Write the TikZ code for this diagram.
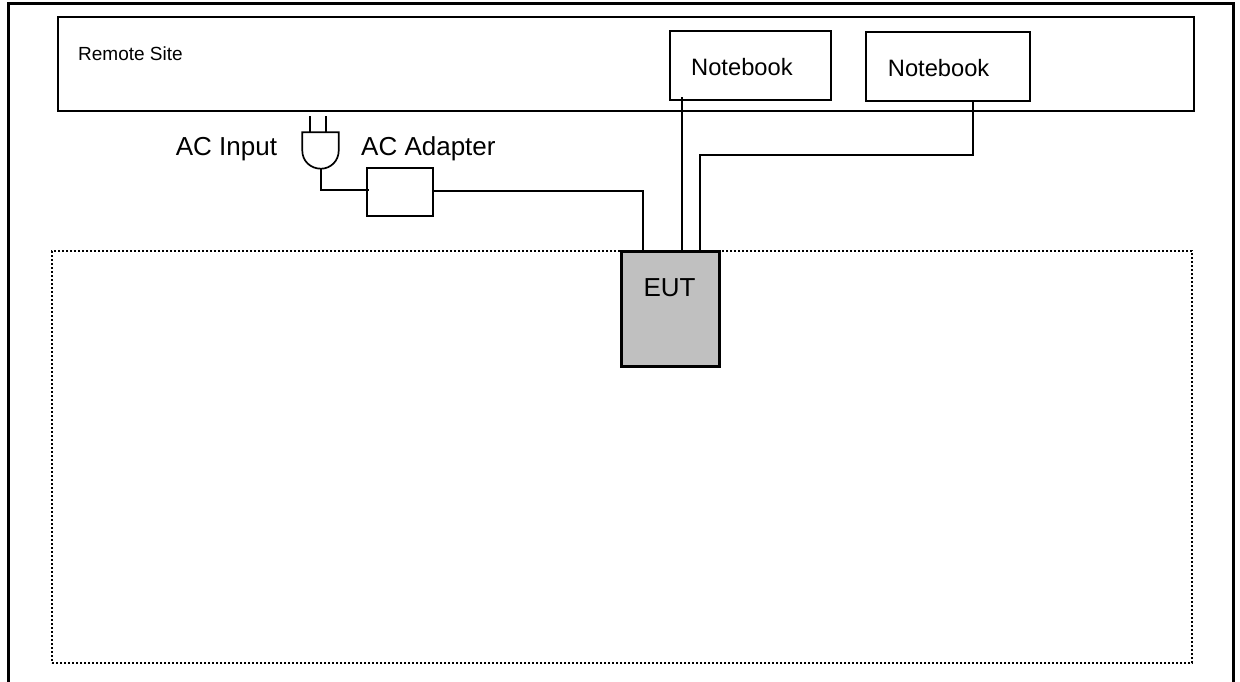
\documentclass[tikz,border=0pt]{standalone}
\usepackage{fontspec}
\setmainfont{Liberation Sans}
\tikzset{
  px/.style={x=1pt,y=-1pt},
  frameline/.style={line width=3.4pt,line cap=butt,line join=miter},
  boxnode/.style={draw,line width=2pt,inner sep=0pt,outer sep=0pt,anchor=north west,fill=white},
  eutnode/.style={draw,line width=3pt,inner sep=0pt,outer sep=0pt,anchor=north west,fill=eutgray},
  wire/.style={line width=2pt,line join=miter},
  plugline/.style={line width=1.7pt,line join=miter},
  labelbig/.style={anchor=base west,inner sep=0pt,font=\fontsize{26}{30}\selectfont},
  labelmid/.style={anchor=base west,inner sep=0pt,font=\fontsize{23.7}{28}\selectfont},
  labelsmall/.style={anchor=base west,inner sep=0pt,font=\fontsize{19}{23}\selectfont},
  dotframe/.style={line width=1.7pt,dash pattern=on 2pt off 2pt},
}
\definecolor{eutgray}{RGB}{192,192,192}
\begin{document}
\begin{tikzpicture}[px]
\useasboundingbox (0,0) rectangle (1240,681);
% outer frame (open at the bottom)
\coordinate (frameBL) at (8.5,683);
\coordinate (frameTL) at (8.5,3.5);
\coordinate (frameTR) at (1233.5,3.5);
\coordinate (frameBR) at (1233.5,683);
\draw[frameline] (frameBL) -- (frameTL) -- (frameTR) -- (frameBR);
% remote site
\node[boxnode,minimum width=1135.5pt,minimum height=94.5pt] (remote) at (58,16.5) {};
\node[labelsmall] (remotelabel) at (78,60) {Remote Site};
% dotted area
\node[dotframe,draw,inner sep=0pt,outer sep=0pt,anchor=north west,minimum width=1140pt,minimum height=412pt] (area) at (52,251) {};
% notebooks
\node[boxnode,minimum width=160.7pt,minimum height=69.3pt] (nbone) at (670,31) {};
\node[labelmid] (nbonelabel) at (691,75) {Notebook};
\node[boxnode,minimum width=164pt,minimum height=69pt] (nbtwo) at (866.3,32.3) {};
\node[labelmid] (nbtwolabel) at (887.7,76) {Notebook};
% EUT
\node[eutnode,minimum width=98pt,minimum height=115.3pt] (eut) at (621.3,251) {};
\node[labelbig] (eutlabel) at (643.3,296) {EUT};
% adapter
\node[boxnode,minimum width=65.8pt,minimum height=48pt] (adapter) at (366.7,168.3) {};
\node[labelbig] (adapterlabel) at (361,155) {AC Adapter};
\node[labelbig] (inputlabel) at (175.7,155) {AC Input};
% plug
\coordinate (plugout) at (321,168.7);
\coordinate (prongA) at (310.3,132.3);
\coordinate (prongB) at (326.3,132.3);
\draw[plugline] (302.3,132.3) -- (338.7,132.3) -- (338.7,150.7)
  .. controls (338.7,161) and (330.5,168.7) .. (plugout)
  .. controls (310.5,168.7) and (302.3,161) .. (302.3,150.7) -- cycle;
\draw[plugline] (prongA) -- ++(0,-16.3);
\draw[plugline] (prongB) -- ++(0,-16.3);
% connectors
\coordinate (plugjoin) at (369.3,190);
\draw[wire] (plugout) |- (plugjoin);
\draw[wire] ([yshift=1.6pt]adapter.east) -- ++(210.2,0) coordinate (acbend) -- (acbend |- eut.north);
\draw[wire] ([xshift=11.7pt,yshift=3pt]nbone.south west) -- ([xshift=11.7pt]nbone.south west |- eut.north);
\draw[wire] ([xshift=106.7pt]nbtwo.south west) -- ++(0,53.4) coordinate (nbbend)
  -- ++(-273,0) coordinate (nbbendb) -- (nbbendb |- eut.north);
\end{tikzpicture}
\end{document}
